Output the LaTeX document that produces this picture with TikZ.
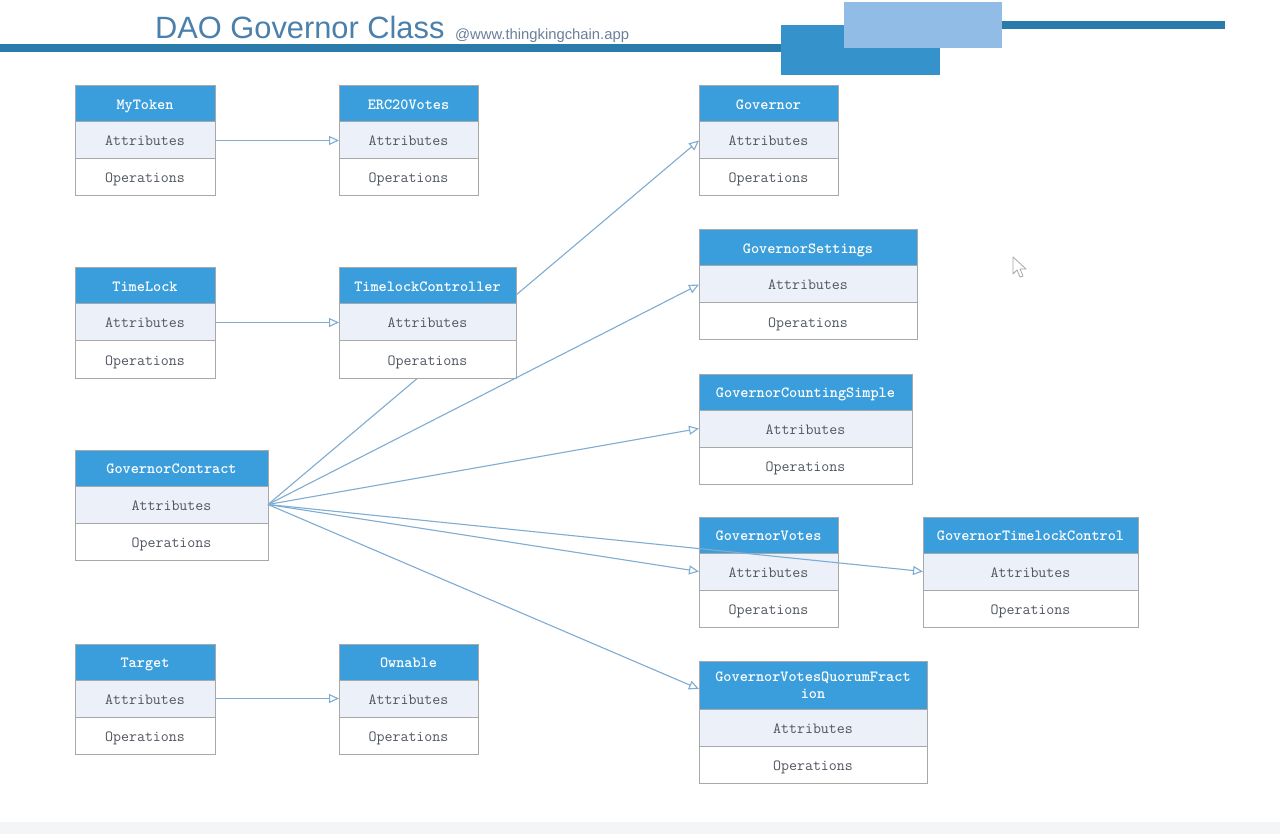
\documentclass[tikz,border=0pt]{standalone}
\usepackage{fontspec}
\setmainfont{Liberation Sans}
\usetikzlibrary{arrows.meta}
\definecolor{hdrblue}{HTML}{3A9EDC}
\definecolor{attrfill}{HTML}{EBF0F9}
\definecolor{bordergray}{HTML}{A8A8A8}
\definecolor{txtgray}{HTML}{505560}
\definecolor{linkblue}{HTML}{7FACD2}
\definecolor{titleblue}{HTML}{4B80AA}
\definecolor{urlgray}{HTML}{6A8099}
\definecolor{bardark}{HTML}{2B7BAA}
\definecolor{boxdark}{HTML}{3592CB}
\definecolor{boxlight}{HTML}{90BCE6}
\definecolor{stripgray}{HTML}{F4F5F7}
\pgfdeclarelayer{bg}
\pgfdeclarelayer{bgpaper}
\pgfsetlayers{bgpaper,bg,main}
\tikzset{
  hdr/.style={draw=bordergray, fill=hdrblue, text=white, line width=1pt, inner sep=0pt, outer sep=0pt, align=center,
    font=\ttfamily\bfseries\fontsize{15.5}{17}\selectfont},
  oneline/.style={text height=12.5pt, text depth=1.5pt},
  attrbox/.style={draw=bordergray, fill=attrfill, text=txtgray, line width=1pt, inner sep=0pt, outer sep=0pt,
    minimum height=37pt, oneline, font=\ttfamily\fontsize{15.5}{17}\selectfont},
  opsbox/.style={draw=bordergray, fill=white, text=txtgray, line width=1pt, inner sep=0pt, outer sep=0pt,
    minimum height=37pt, oneline, font=\ttfamily\fontsize{15.5}{17}\selectfont},
  gen/.style={draw=linkblue, line width=1.1pt, -{Triangle[open,length=10pt,width=9pt]}}
}
\newcommand\umlbox[7][oneline]{%
  \node[hdr, #1, minimum width=#5pt, minimum height=#6pt, anchor=north west] (#2) at (#3,#4) {#7};
  \node[attrbox, minimum width=#5pt, anchor=north] (#2-a) at (#2.south) {Attributes};
  \node[opsbox, minimum width=#5pt, anchor=north] (#2-o) at (#2-a.south) {Operations};
}
\begin{document}
\begin{tikzpicture}[x=1pt,y=-1pt]
\useasboundingbox (0,0) rectangle (1280,834);
\begin{pgfonlayer}{bgpaper}
\fill[white] (0,0) rectangle (1280,834);
\fill[stripgray] (0,822) rectangle (1280,834);
\end{pgfonlayer}
% header decoration
\fill[bardark] (0,44.5) rectangle (790,52);
\fill[boxdark] (781,25) rectangle (940,75);
\fill[boxlight] (844,2) rectangle (1002,48);
\fill[bardark] (1002,21) rectangle (1225,29);
\node[anchor=base west, inner sep=0pt, text=titleblue, font=\fontsize{30.8}{32}\selectfont] (title) at (155,38.5) {DAO Governor Class};
\node[anchor=base west, inner sep=0pt, text=urlgray, font=\fontsize{14.8}{16}\selectfont] (url) at (455,39.5) {@www.thingkingchain.app};
% classes
\umlbox{MyToken}{75}{86}{140}{36}{MyToken}
\umlbox{ERC}{339}{86}{139}{36}{ERC20Votes}
\umlbox{Governor}{699}{86}{139}{36}{Governor}
\umlbox{TimeLock}{75}{268}{140}{36}{TimeLock}
\umlbox{TLC}{339}{268}{177}{36}{TimelockController}
\umlbox{Settings}{699}{230}{218}{36}{GovernorSettings}
\umlbox{Contract}{75}{450}{193}{36}{GovernorContract}
\umlbox{Counting}{699}{374}{213}{36}{GovernorCountingSimple}
\umlbox{Votes}{699}{517}{139}{36}{GovernorVotes}
\umlbox{TLControl}{923}{517}{215}{36}{GovernorTimelockControl}
\umlbox{Target}{75}{644}{140}{36}{Target}
\umlbox{Ownable}{339}{644}{139}{36}{Ownable}
\umlbox[]{Quorum}{699}{661}{228}{48}{GovernorVotesQuorumFract\\ion}
% connectors
\begin{pgfonlayer}{bg}
\draw[gen] (Contract-a.east) -- (Governor-a.west);
\end{pgfonlayer}
\draw[gen] (MyToken-a.east) -- (ERC-a.west);
\draw[gen] (TimeLock-a.east) -- (TLC-a.west);
\draw[gen] (Target-a.east) -- (Ownable-a.west);
\draw[gen] (Contract-a.east) -- (Settings-a.west);
\draw[gen] (Contract-a.east) -- (Counting-a.west);
\draw[gen] (Contract-a.east) -- (Votes-a.west);
\draw[gen] (Contract-a.east) -- (TLControl-a.west);
\draw[gen] (Contract-a.east) -- ([yshift=-4pt]Quorum.west);
% mouse pointer
\draw[gray!70, fill=white, line width=0.8pt, line join=round]
  (1013,257) -- (1013,274) -- (1017,270) -- (1020,277) -- (1023,276) -- (1020,269) -- (1026,269) -- cycle;
\end{tikzpicture}
\end{document}
